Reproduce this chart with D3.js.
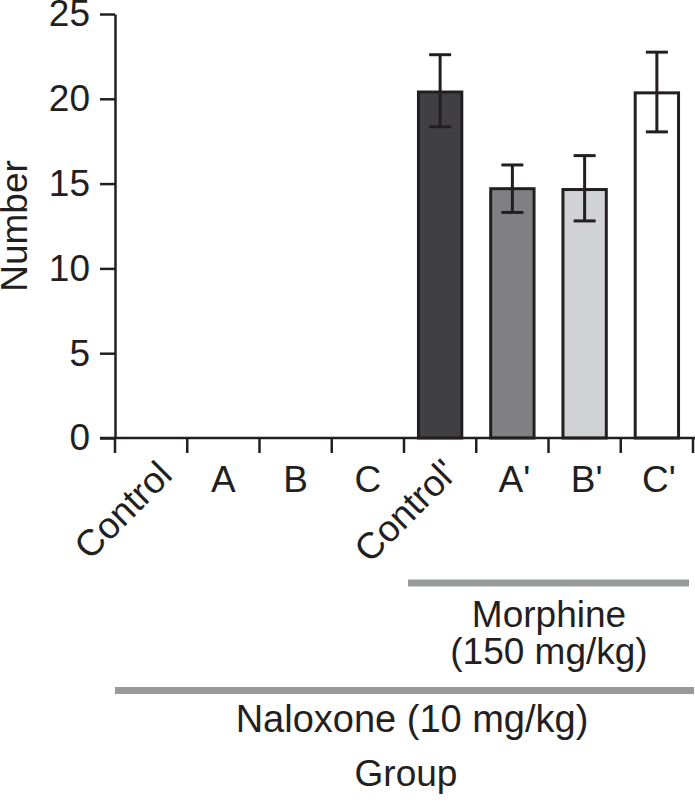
<!DOCTYPE html>
<html lang="en">
<head>
<meta charset="UTF-8">
<title>Number by group</title>
<script src="https://cdnjs.cloudflare.com/ajax/libs/d3/7.8.5/d3.min.js"></script>
<style>
    body { margin: 0; background: #fff; }
    svg text { font-family: "Liberation Sans", Arial, sans-serif; fill: #231f20; }
</style>
</head>
<body>
<div id="chart"></div>
<script>
const groups = ["Control", "A", "B", "C", "Control'", "A'", "B'", "C'"];
const means = [0, 0, 0, 0, 20.4, 14.7, 14.65, 20.35];
const errLow = [null, null, null, null, 18.35, 13.3, 12.8, 18.05];
const errHigh = [null, null, null, null, 22.6, 16.1, 16.65, 22.75];
const barColors = ["#fff", "#fff", "#fff", "#fff", "#404042", "#808083", "#d1d2d4", "#ffffff"];
const yTicks = [0, 5, 10, 15, 20, 25];

const width = 695, height = 808;
const margin = { top: 14, left: 115 };
const ink = "#231f20";
const fs = 37;

const svg = d3.select("#chart").append("svg")
    .attr("width", width)
    .attr("height", height);

const x = d3.scaleBand()
    .domain(groups)
    .range([margin.left, 693])
    .paddingInner(0.4)
    .paddingOuter(0.2);

const y = d3.scaleLinear()
    .domain([0, 25])
    .range([438, margin.top]);

// bars (only the non-zero ones are drawn)
const data = groups.map((g, i) => ({ g, v: means[i], lo: errLow[i], hi: errHigh[i], c: barColors[i] }))
    .filter(d => d.v > 0);

svg.append("g").selectAll("rect")
    .data(data)
    .join("rect")
    .attr("x", d => x(d.g))
    .attr("y", d => y(d.v))
    .attr("width", x.bandwidth())
    .attr("height", d => y(0) - y(d.v))
    .attr("fill", d => d.c)
    .attr("stroke", ink)
    .attr("stroke-width", 3);

// error bars
const eb = svg.append("g").attr("stroke", ink).attr("stroke-width", 3);
data.forEach(d => {
    const cx = x(d.g) + x.bandwidth() / 2;
    eb.append("line").attr("x1", cx).attr("x2", cx).attr("y1", y(d.hi)).attr("y2", y(d.lo));
    eb.append("line").attr("x1", cx - 11).attr("x2", cx + 11).attr("y1", y(d.hi)).attr("y2", y(d.hi));
    eb.append("line").attr("x1", cx - 11).attr("x2", cx + 11).attr("y1", y(d.lo)).attr("y2", y(d.lo));
});

// y axis
const yAxis = svg.append("g")
    .attr("transform", `translate(${margin.left},0)`)
    .call(d3.axisLeft(y).tickValues(yTicks).tickSize(15).tickSizeOuter(0).tickPadding(10));
yAxis.select(".domain").attr("stroke", ink).attr("stroke-width", 2.5);
yAxis.selectAll(".tick line").attr("stroke", ink).attr("stroke-width", 2.5);
yAxis.selectAll(".tick text")
    .attr("font-size", fs)
    .attr("fill", ink)
    .style("font-family", "'Liberation Sans', Arial, sans-serif");

// x axis with tick marks at the group boundaries
const bx = d3.scaleLinear().domain([0, groups.length]).range([margin.left, 693]);
const xg = svg.append("g");
xg.append("line")
    .attr("x1", margin.left - 15).attr("x2", width)
    .attr("y1", y(0)).attr("y2", y(0))
    .attr("stroke", ink).attr("stroke-width", 2.5);
xg.selectAll("line.tk")
    .data(d3.range(groups.length + 1))
    .join("line")
    .attr("class", "tk")
    .attr("x1", i => bx(i)).attr("x2", i => bx(i))
    .attr("y1", y(0)).attr("y2", y(0) + 15)
    .attr("stroke", ink).attr("stroke-width", 2.5);

// category labels
groups.forEach((g, i) => {
    const cx = bx(i + 0.5);
    if (g.startsWith("Control")) {
        const prime = g.endsWith("'");
        xg.append("text")
            .attr("transform", `translate(${cx + (prime ? 19 : 23)},${prime ? 475 : 477}) rotate(-45)`)
            .attr("text-anchor", "end")
            .attr("font-size", fs)
            .text(g);
    } else {
        xg.append("text")
            .attr("x", cx + (g.endsWith("'") ? 2 : 0))
            .attr("y", 492)
            .attr("text-anchor", "middle")
            .attr("font-size", fs)
            .text(g);
    }
});

// y label
svg.append("text")
    .attr("transform", `translate(27,${y(12.5)}) rotate(-90)`)
    .attr("text-anchor", "middle")
    .attr("font-size", fs)
    .text("Number");

// treatment brackets
const grey = "#98999b";
svg.append("line")
    .attr("x1", 408).attr("x2", 689)
    .attr("y1", 583).attr("y2", 583)
    .attr("stroke", grey).attr("stroke-width", 7);
svg.append("text")
    .attr("x", 549).attr("y", 627)
    .attr("text-anchor", "middle").attr("font-size", fs)
    .text("Morphine");
svg.append("text")
    .attr("x", 549).attr("y", 664)
    .attr("text-anchor", "middle").attr("font-size", fs)
    .text("(150 mg/kg)");

svg.append("line")
    .attr("x1", bx(0)).attr("x2", 694)
    .attr("y1", 690.5).attr("y2", 690.5)
    .attr("stroke", grey).attr("stroke-width", 7);
svg.append("text")
    .attr("x", 412).attr("y", 732)
    .attr("text-anchor", "middle").attr("font-size", 38)
    .text("Naloxone (10 mg/kg)");
svg.append("text")
    .attr("x", 406).attr("y", 786)
    .attr("text-anchor", "middle").attr("font-size", fs)
    .text("Group");
</script>
</body>
</html>
